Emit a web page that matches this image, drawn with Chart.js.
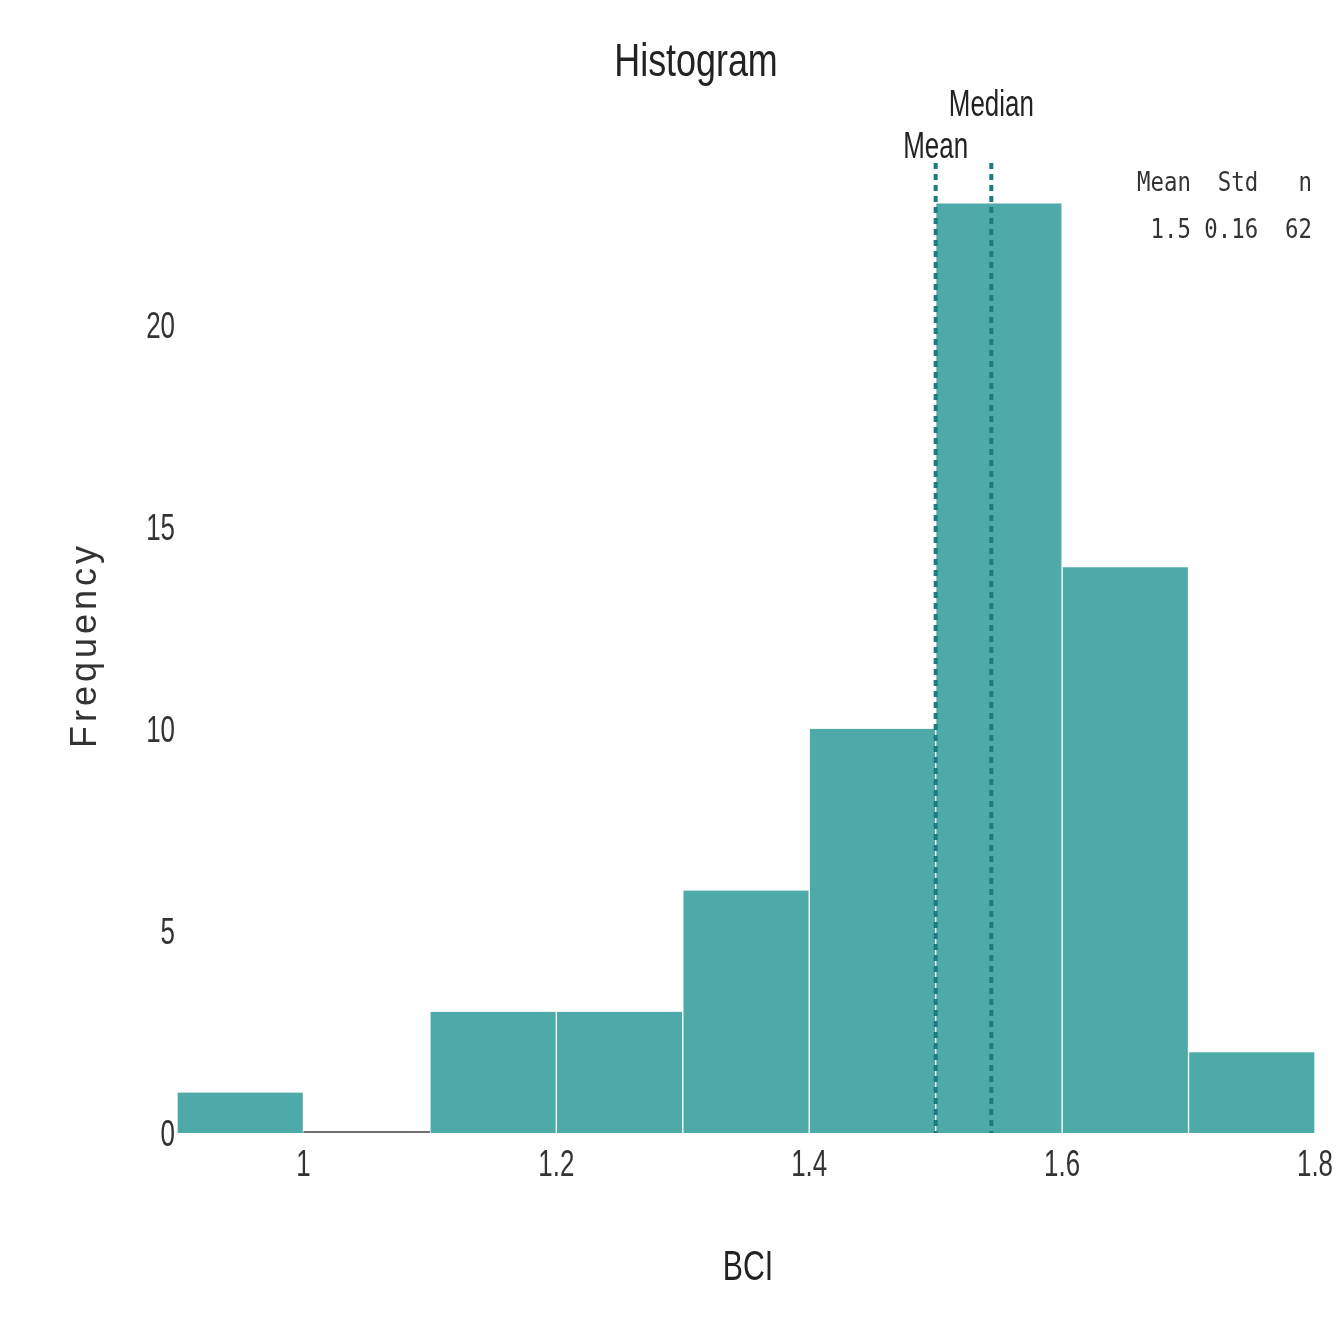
<!DOCTYPE html>
<html>
<head>
<meta charset="utf-8">
<script src="https://cdn.jsdelivr.net/npm/chart.js@4/dist/chart.umd.min.js"></script>
<style>
  html, body { margin: 0; padding: 0; background: #fff; }
  #wrap { width: 1336px; height: 1321px; }
</style>
</head>
<body>
<div id="wrap"><canvas id="myChart"></canvas></div>
<script>
// histogram bins (BCI), width 0.1
var binStarts = [0.9, 1.0, 1.1, 1.2, 1.3, 1.4, 1.5, 1.6, 1.7];
var counts = [1, 0, 3, 3, 6, 10, 23, 14, 2];
var binWidth = 0.1;
var xTicks = [1, 1.2, 1.4, 1.6, 1.8];
var yTicks = [0, 5, 10, 15, 20];
var meanVal = 1.5;
var medianVal = 1.544;
var statHeader = "Mean  Std   n";
var statValues = "1.5 0.16  62";

var sans = "'Liberation Sans', Arial, sans-serif";

function buildBars() {
    var out = [];
    for (var i = 0; i < binStarts.length; i++) {
        out.push({ x: binStarts[i] + binWidth / 2, y: counts[i] });
    }
    return out;
}

function buildEmpty() {
    // grey baseline for empty bins
    var out = [];
    for (var i = 0; i < counts.length; i++) {
        if (counts[i] === 0) {
            out.push({ x: binStarts[i], y: 0 });
            out.push({ x: binStarts[i] + binWidth, y: 0 });
        }
    }
    return out;
}

// condensed text (no narrow font installed, so squeeze horizontally)
function squeezed(ctx, txt, x, y, font, align, sx, color) {
    ctx.save();
    ctx.font = font;
    ctx.fillStyle = color || '#222';
    ctx.textAlign = align;
    ctx.textBaseline = 'alphabetic';
    ctx.translate(x, y);
    ctx.scale(sx, 1);
    ctx.fillText(txt, 0, 0);
    ctx.restore();
}

var annotate = {
    id: 'annotate',
    afterDatasetsDraw: function(chart) {
        var ctx = chart.ctx;
        var xs = chart.scales.x;
        var ys = chart.scales.y;
        var top = chart.chartArea.top;
        var bottom = ys.getPixelForValue(0);

        // mean / median lines
        ctx.save();
        ctx.strokeStyle = '#1b7b7e';
        ctx.lineWidth = 4;
        ctx.setLineDash([6, 5]);
        [meanVal, medianVal].forEach(function(v) {
            var px = xs.getPixelForValue(v);
            ctx.beginPath();
            ctx.moveTo(px, top);
            ctx.lineTo(px, bottom);
            ctx.stroke();
        });
        ctx.restore();

        // tick labels
        xs.ticks.forEach(function(t) {
            squeezed(ctx, String(t.value), xs.getPixelForValue(t.value), 1176, '36px ' + sans, 'center', 0.72, '#333');
        });
        ys.ticks.forEach(function(t) {
            squeezed(ctx, String(t.value), 175, ys.getPixelForValue(t.value) + 13, '36px ' + sans, 'right', 0.72, '#333');
        });

        squeezed(ctx, 'Mean', xs.getPixelForValue(meanVal), 158, '36px ' + sans, 'center', 0.72, '#222');
        squeezed(ctx, 'Median', xs.getPixelForValue(medianVal), 116, '36px ' + sans, 'center', 0.72, '#222');

        // title
        squeezed(ctx, 'Histogram', 696, 76, '46px ' + sans, 'center', 0.78, '#222');

        // x title
        squeezed(ctx, 'BCI', 748, 1280, '42px ' + sans, 'center', 0.72, '#222');

        // y title
        ctx.save();
        ctx.translate(96, 645);
        ctx.rotate(-Math.PI / 2);
        ctx.font = '36px ' + sans;
        ctx.letterSpacing = '4px';
        ctx.fillStyle = '#333';
        ctx.textAlign = 'center';
        ctx.fillText('Frequency', 0, 0);
        ctx.restore();

        // stats box
        squeezed(ctx, statHeader, 1312, 191, "26px 'DejaVu Sans Mono', monospace", 'right', 0.86, '#333');
        squeezed(ctx, statValues, 1312, 238, "26px 'DejaVu Sans Mono', monospace", 'right', 0.86, '#333');
    }
};

var ctx = document.getElementById('myChart');
var myChart = new Chart(ctx, {
    type: 'bar',
    data: {
        datasets: [{
            label: 'Frequency',
            data: buildBars(),
            backgroundColor: '#4eaaa8',
            borderColor: '#ffffff',
            borderWidth: { left: 1, right: 1, top: 0, bottom: 0 },
            borderSkipped: false,
            barPercentage: 1,
            categoryPercentage: 1,
            order: 2
        }, {
            type: 'line',
            label: 'empty',
            data: buildEmpty(),
            borderColor: '#6f6f6f',
            borderWidth: 4,
            pointRadius: 0,
            fill: false,
            order: 1
        }]
    },
    options: {
        responsive: true,
        maintainAspectRatio: false,
        animation: false,
        layout: { padding: { top: 163, right: 21, left: 0, bottom: 0 } },
        plugins: {
            legend: { display: false },
            tooltip: { enabled: false }
        },
        scales: {
            x: {
                type: 'linear',
                min: 0.9,
                max: 1.8,
                offset: false,
                grid: { display: false, drawTicks: false },
                border: { display: false },
                afterBuildTicks: function(scale) {
                    scale.ticks = xTicks.map(function(v) { return { value: v }; });
                },
                afterFit: function(scale) { scale.height = 188; },
                ticks: { display: false }
            },
            y: {
                min: 0,
                max: 24,
                grid: { display: false, drawTicks: false },
                border: { display: false },
                afterBuildTicks: function(scale) {
                    scale.ticks = yTicks.map(function(v) { return { value: v }; });
                },
                afterFit: function(scale) { scale.width = 177; },
                ticks: { display: false }
            }
        }
    },
    plugins: [annotate]
});
</script>
</body>
</html>
